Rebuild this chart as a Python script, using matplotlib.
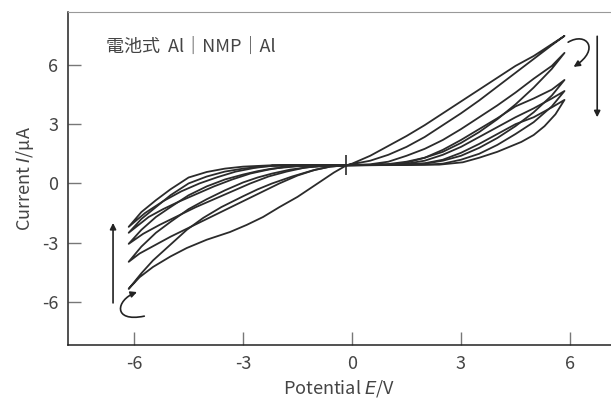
"""
Cyclic voltammogram, Al | NMP | Al cell, five successive cycles.
"""
import matplotlib
matplotlib.use("Agg")
import matplotlib.pyplot as plt
from matplotlib.patches import FancyArrowPatch
from matplotlib.path import Path

plt.rcParams["font.family"] = ["Noto Sans CJK JP", "DejaVu Sans"]
plt.rcParams["axes.unicode_minus"] = False

# ─── Data ────────────────────────────────────────────────────────────────────
# each cycle: +side lower branch out, +side upper branch back,
#             -side lower branch out, -side upper branch back
cycle1_E = [-0.15, 0.5, 1.0, 1.5, 2.0, 2.5, 3.0, 3.5, 4.0, 4.5, 5.0, 5.5, 5.85,
            5.5, 5.0, 4.5, 4.0, 3.5, 3.0, 2.5, 2.0, 1.5, 1.0, 0.5, 0.0, -0.15,
            -0.5, -0.8, -1.15, -1.5, -2.0, -2.45, -2.9, -3.36, -4.0, -4.55,
            -5.0, -5.48, -5.85, -6.15,
            -5.8, -5.48, -5.0, -4.55, -4.1, -3.6, -3.0, -2.6, -2.2, -1.65,
            -1.1, -0.6, -0.15]
cycle1_I = [0.92, 1.15, 1.45, 1.85, 2.35, 2.95, 3.55, 4.2, 4.9, 5.6, 6.3, 7.0, 7.47,
            7.05, 6.45, 5.95, 5.35, 4.75, 4.15, 3.55, 2.95, 2.4, 1.9, 1.4, 1.0, 0.92,
            0.55, 0.18, -0.25, -0.68, -1.2, -1.7, -2.1, -2.46, -2.85, -3.27,
            -3.7, -4.23, -4.75, -5.34,
            -4.55, -3.9, -3.1, -2.35, -1.75, -1.2, -0.65, -0.3, 0.0, 0.35,
            0.65, 0.85, 0.92]

cycle2_E = [-0.15, 0.5, 1.0, 1.5, 2.0, 2.5, 3.0, 3.5, 4.0, 4.5, 5.0, 5.5, 5.85,
            5.5, 5.0, 4.5, 4.0, 3.5, 3.0, 2.5, 2.0, 1.5, 1.0, 0.5, -0.15,
            -0.6, -1.0, -1.5, -2.0, -2.5, -3.0, -3.5, -4.0, -4.5, -5.0, -5.5,
            -5.85, -6.15,
            -5.8, -5.4, -5.0, -4.5, -4.0, -3.5, -3.0, -2.6, -2.2, -1.7, -1.2,
            -0.6, -0.15]
cycle2_I = [0.92, 0.93, 0.98, 1.1, 1.3, 1.6, 2.05, 2.6, 3.25, 4.0, 4.85, 5.8, 6.61,
            5.95, 5.3, 4.6, 3.95, 3.35, 2.75, 2.2, 1.75, 1.4, 1.1, 0.97, 0.92,
            0.85, 0.7, 0.4, 0.0, -0.45, -0.9, -1.35, -1.8, -2.25, -2.7, -3.2,
            -3.55, -3.97,
            -3.2, -2.5, -1.95, -1.3, -0.8, -0.35, 0.05, 0.3, 0.5, 0.7, 0.82,
            0.9, 0.92]

cycle3_E = [-0.15, 1.0, 1.5, 2.0, 2.5, 3.0, 3.5, 4.0, 4.5, 5.0, 5.5, 5.85,
            5.5, 5.0, 4.5, 4.0, 3.5, 3.0, 2.5, 2.0, 1.5, 1.0, -0.15,
            -0.8, -1.3, -1.8, -2.3, -2.8, -3.3, -3.8, -4.3, -4.8, -5.3, -5.75,
            -6.15,
            -5.8, -5.4, -5.0, -4.5, -4.0, -3.5, -3.0, -2.6, -2.2, -1.5, -0.15]
cycle3_I = [0.92, 0.93, 0.95, 1.0, 1.15, 1.4, 1.8, 2.3, 2.9, 3.6, 4.45, 5.24,
            4.75, 4.3, 3.9, 3.3, 2.75, 2.2, 1.7, 1.3, 1.05, 0.95, 0.92,
            0.9, 0.8, 0.6, 0.35, 0.0, -0.4, -0.8, -1.2, -1.65, -2.1, -2.55,
            -3.06,
            -2.35, -1.7, -1.2, -0.6, -0.15, 0.2, 0.45, 0.62, 0.75, 0.87, 0.93]

cycle4_E = [-0.15, 1.5, 2.0, 2.5, 3.0, 3.5, 4.0, 4.5, 5.0, 5.5, 5.85,
            5.5, 5.0, 4.5, 4.0, 3.5, 3.0, 2.5, 2.0, 1.5, 0.5, -0.15,
            -1.3, -1.8, -2.3, -2.8, -3.3, -3.8, -4.3, -4.8, -5.2, -5.6, -6.15,
            -5.8, -5.4, -5.0, -4.5, -4.0, -3.5, -3.0, -2.5, -2.0, -0.15]
cycle4_I = [0.92, 0.93, 0.95, 1.0, 1.2, 1.5, 1.95, 2.5, 3.1, 3.9, 4.68,
            4.3, 3.8, 3.35, 2.85, 2.35, 1.85, 1.45, 1.15, 1.0, 0.93, 0.92,
            0.9, 0.85, 0.7, 0.5, 0.2, -0.15, -0.55, -0.95, -1.3, -1.7, -2.5,
            -1.8, -1.2, -0.6, 0.0, 0.35, 0.6, 0.75, 0.85, 0.9, 0.93]

cycle5_E = [-0.15, 2.4, 3.05, 3.5, 4.0, 4.66, 5.0, 5.3, 5.6, 5.85,
            5.5, 5.0, 4.5, 4.0, 3.5, 3.0, 2.5, 2.0, 1.0, -0.15,
            -2.2, -2.7, -3.2, -3.7, -4.2, -4.7, -5.2, -5.7, -6.15,
            -5.8, -5.4, -5.0, -4.5, -4.0, -3.5, -3.0, -2.2, -0.15]
cycle5_I = [0.92, 0.95, 1.07, 1.3, 1.6, 2.1, 2.45, 2.9, 3.5, 4.23,
            3.85, 3.35, 3.0, 2.5, 2.0, 1.55, 1.2, 1.02, 0.93, 0.92,
            0.9, 0.78, 0.6, 0.32, 0.0, -0.4, -0.9, -1.5, -2.2,
            -1.45, -0.85, -0.3, 0.3, 0.58, 0.75, 0.85, 0.92, 0.93]

cycles = [(cycle1_E, cycle1_I), (cycle2_E, cycle2_I), (cycle3_E, cycle3_I),
          (cycle4_E, cycle4_I), (cycle5_E, cycle5_I)]

start_E, start_I = -0.17, 0.92
x_ticks = [-6, -3, 0, 3, 6]
y_ticks = [-6, -3, 0, 3, 6]

# ─── Plot ────────────────────────────────────────────────────────────────────
fig = plt.figure(figsize=(6.11, 4.01), dpi=100)
ax = fig.add_axes([0.1113, 0.1397, 0.8887, 0.8304])

for E, I in cycles:
    ax.plot(E, I, color="#2b2b2b", lw=1.3, solid_joinstyle="round")
ax.plot([start_E], [start_I], marker="|", ms=14, mew=1.2, color="#2b2b2b")

# scan-direction arrows
arrow = dict(arrowstyle="-|>", color="#222222", lw=1.2, mutation_scale=9,
             shrinkA=0, shrinkB=0)
ax.annotate("", xy=(6.75, 3.35), xytext=(6.75, 7.45), arrowprops=arrow)
ax.annotate("", xy=(-6.58, -2.0), xytext=(-6.58, -6.05), arrowprops=arrow)

C4 = [Path.MOVETO, Path.CURVE4, Path.CURVE4, Path.CURVE4]
hook_r = Path([(5.95, 7.15), (6.45, 7.7), (6.85, 6.8), (6.1, 5.9)], C4)
hook_l = Path([(-5.72, -6.72), (-6.6, -7.05), (-6.5, -5.9), (-5.92, -5.5)], C4)
for p in (hook_r, hook_l):
    ax.add_patch(FancyArrowPatch(path=p, arrowstyle="-|>", color="#222222",
                                 lw=1.2, mutation_scale=9))

ax.text(-6.78, 6.9, "電池式  Al｜NMP｜Al", fontsize=13, color="#444444",
        va="center", ha="left")

ax.set_xlim(-7.82, 7.13)
ax.set_ylim(-8.18, 8.68)
ax.set_xticks(x_ticks)
ax.set_yticks(y_ticks)
ax.tick_params(direction="in", length=9.5, width=1, color="#777777",
               labelsize=13, labelcolor="#444444", pad=7)

ax.spines["right"].set_visible(False)
ax.spines["top"].set_color("#999999")
for s in ("left", "bottom"):
    ax.spines[s].set_color("#222222")
    ax.spines[s].set_linewidth(1.1)

ax.set_xlabel("Potential $\\it{E}$/V", fontsize=13, color="#444444", labelpad=4)
ax.set_ylabel("Current $\\it{I}$/μA", fontsize=13, color="#444444", labelpad=4)

fig.savefig("out.png", dpi=100)
